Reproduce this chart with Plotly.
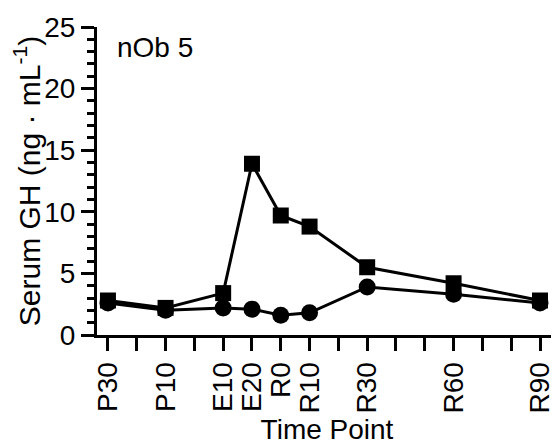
import plotly.graph_objects as go

# Data
time_labels = ["P30", "P10", "E10", "E20", "R0", "R10", "R30", "R60", "R90"]
time_pos = [0, 2, 4, 5, 6, 7, 9, 12, 15]          # position on the time scale (10-min units)
gh_square = [2.8, 2.2, 3.4, 13.9, 9.7, 8.8, 5.5, 4.2, 2.8]
gh_circle = [2.6, 2.0, 2.2, 2.1, 1.6, 1.8, 3.9, 3.3, 2.6]
y_ticks = [0, 5, 10, 15, 20, 25]

FONT = "Liberation Sans, Arial, sans-serif"
fs = 28

fig = go.Figure()
fig.add_trace(go.Scatter(
    x=time_pos, y=gh_circle, mode="lines+markers",
    line=dict(color="black", width=3),
    marker=dict(symbol="circle", size=17, color="black"),
    showlegend=False, cliponaxis=False))
fig.add_trace(go.Scatter(
    x=time_pos, y=gh_square, mode="lines+markers",
    line=dict(color="black", width=3),
    marker=dict(symbol="square", size=16, color="black"),
    showlegend=False, cliponaxis=False))

fig.update_layout(
    width=551, height=437,
    margin=dict(l=89, r=2, t=19, b=110),
    plot_bgcolor="white", paper_bgcolor="white",
    font=dict(family=FONT, size=fs, color="black"),
    xaxis=dict(
        range=[-0.38, 15.59], tickmode="array", tickvals=time_pos, ticktext=time_labels,
        tickangle=-90, ticks="outside", ticklen=13, tickwidth=3, tickcolor="black",
        minor=dict(tick0=0, dtick=1, ticks="outside", ticklen=13, tickwidth=3, tickcolor="black"),
        showline=True, linewidth=3, linecolor="black", showgrid=False, zeroline=False,
        tickfont=dict(family=FONT, size=fs),
        title=dict(text="Time Point", font=dict(family=FONT, size=fs), standoff=0),
    ),
    yaxis=dict(
        range=[0, 25], tickmode="array", tickvals=y_ticks,
        ticks="outside", ticklen=13, tickwidth=3, tickcolor="black",
        minor=dict(dtick=1, ticks="outside", ticklen=7, tickwidth=2.5, tickcolor="black"),
        showline=True, linewidth=3, linecolor="black", showgrid=False, zeroline=False,
        tickfont=dict(family=FONT, size=fs),
        title=dict(text="Serum GH (ng · mL<sup>-1</sup>)", font=dict(family=FONT, size=30), standoff=0),
    ),
    annotations=[dict(text="nOb 5", xref="paper", yref="paper", x=0.039, y=0.932,
                      xanchor="left", yanchor="middle", showarrow=False,
                      font=dict(family=FONT, size=fs))],
)

fig.write_html("out.html")
